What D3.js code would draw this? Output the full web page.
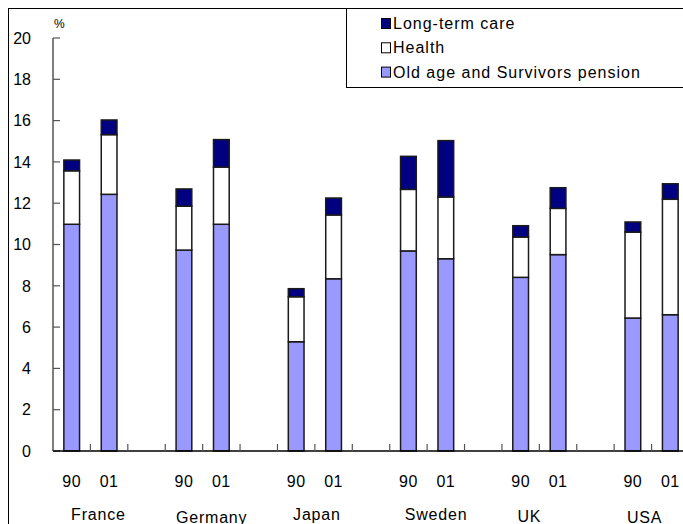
<!DOCTYPE html>
<html>
<head>
<meta charset="utf-8">
<script src="https://cdn.jsdelivr.net/npm/d3@7"></script>
<style>
  html, body { margin: 0; padding: 0; background: #fff; }
  svg { display: block; font-family: "Liberation Sans", Arial, sans-serif; }
</style>
</head>
<body>
<svg id="chart" width="683" height="524"></svg>
<script>
// Public spending on the elderly, % of GDP, 1990 vs 2001
const countries = ["France", "Germany", "Japan", "Sweden", "UK", "USA"];
const years = ["90", "01"];
const pension = [10.98, 12.43, 9.73, 10.98, 5.29, 8.34, 9.69, 9.31, 8.41, 9.51, 6.44, 6.60];
const health  = [2.59, 2.89, 2.13, 2.77, 2.18, 3.09, 2.98, 2.99, 1.95, 2.24, 4.16, 5.59];
const ltc     = [0.52, 0.71, 0.83, 1.33, 0.39, 0.82, 1.60, 2.73, 0.55, 1.00, 0.49, 0.75];
const yTicks = [0, 2, 4, 6, 8, 10, 12, 14, 16, 18, 20];
const seriesNames = ["Old age and Survivors pension", "Health", "Long-term care"];
const seriesColors = ["#9999FF", "#FFFFFF", "#000080"];

const svg = d3.select("#chart");

// category slots: two bars per country, an empty slot between countries
const slots = [];
countries.forEach((c, ci) => {
  years.forEach((yr, yi) => slots.push({ key: c + "-" + yr, country: c, year: yr, idx: ci * 2 + yi }));
  if (ci < countries.length - 1) slots.push({ key: c + "-gap", gap: true });
});

const x = d3.scaleBand().domain(slots.map(d => d.key)).range([53, 689]).padding(0);
const y = d3.scaleLinear().domain([0, 20]).range([451, 38]);
const barW = x.bandwidth() * 0.42;

// outer frame
svg.append("rect").attr("x", 8.5).attr("y", 8.5).attr("width", 700).attr("height", 540)
  .attr("fill", "none").attr("stroke", "#000").attr("stroke-width", 1);

// stacked data
const rows = slots.filter(d => !d.gap).map(d => ({
  key: d.key, pension: pension[d.idx], health: health[d.idx], ltc: ltc[d.idx]
}));
const stack = d3.stack().keys(["pension", "health", "ltc"]);
const layers = stack(rows);

svg.append("g").selectAll("g").data(layers).join("g")
  .attr("fill", (d, i) => seriesColors[i])
  .selectAll("rect").data(d => d).join("rect")
  .attr("x", d => x(d.data.key) + (x.bandwidth() - barW) / 2)
  .attr("y", d => y(d[1]))
  .attr("width", barW)
  .attr("height", d => y(d[0]) - y(d[1]))
  .attr("stroke", "#1a1a1a").attr("stroke-width", 1.5);

// y axis
const yAxis = svg.append("g").attr("transform", "translate(53,0)");
yAxis.append("line").attr("x1", 0).attr("x2", 0).attr("y1", y(20)).attr("y2", y(0))
  .attr("stroke", "#555").attr("stroke-width", 1.5);
yAxis.selectAll("line.tick").data(yTicks).join("line").attr("class", "tick")
  .attr("x1", 0).attr("x2", 7).attr("y1", d => y(d)).attr("y2", d => y(d))
  .attr("stroke", "#555").attr("stroke-width", 1.2);
svg.append("g").selectAll("text").data(yTicks).join("text")
  .attr("x", 31).attr("y", d => y(d)).attr("dy", "0.36em")
  .attr("text-anchor", "end").attr("font-size", 16).attr("fill", "#000")
  .text(d => d);
svg.append("text").attr("x", 54).attr("y", 28).attr("font-size", 12).text("%");

// x axis
const xAxis = svg.append("g");
xAxis.append("line").attr("x1", 53).attr("x2", 689).attr("y1", y(0)).attr("y2", y(0))
  .attr("stroke", "#000").attr("stroke-width", 1.5);
xAxis.selectAll("line.tick").data(slots.slice(1)).join("line").attr("class", "tick")
  .attr("x1", d => x(d.key)).attr("x2", d => x(d.key))
  .attr("y1", y(0)).attr("y2", y(0) - 7)
  .attr("stroke", "#555").attr("stroke-width", 1.2);
xAxis.selectAll("text.yr").data(slots.filter(d => !d.gap)).join("text").attr("class", "yr")
  .attr("x", d => x(d.key) + x.bandwidth() / 2).attr("y", 487)
  .attr("text-anchor", "middle").attr("font-size", 16).attr("letter-spacing", 0.5).text(d => d.year);

// country labels, staggered slightly as in the category layout
const nameShift = [[8, 0], [9, 2.5], [2, 0], [9, 0], [-10, 1.5], [-7, 2.5]];
xAxis.selectAll("text.ctry").data(countries).join("text").attr("class", "ctry")
  .attr("x", (c, i) => (x(c + "-90") + x(c + "-01")) / 2 + x.bandwidth() / 2 + nameShift[i][0])
  .attr("y", (c, i) => 520 + nameShift[i][1])
  .attr("text-anchor", "middle").attr("font-size", 16).attr("letter-spacing", 0.8)
  .text(c => c);

// legend
const legend = svg.append("g");
legend.append("rect").attr("x", 346.5).attr("y", 8.5).attr("width", 400).attr("height", 79)
  .attr("fill", "#fff").attr("stroke", "#000").attr("stroke-width", 1);
const legendOrder = [2, 1, 0];
legendOrder.forEach((si, r) => {
  const cy = 23.5 + r * 24.3;
  legend.append("rect").attr("x", 381.5).attr("y", cy - 5).attr("width", 9).attr("height", 10)
    .attr("fill", seriesColors[si]).attr("stroke", "#000").attr("stroke-width", 1);
  legend.append("text").attr("x", 393).attr("y", cy + 5.5).attr("font-size", 16)
    .attr("letter-spacing", 1).text(seriesNames[si]);
});
</script>
</body>
</html>
